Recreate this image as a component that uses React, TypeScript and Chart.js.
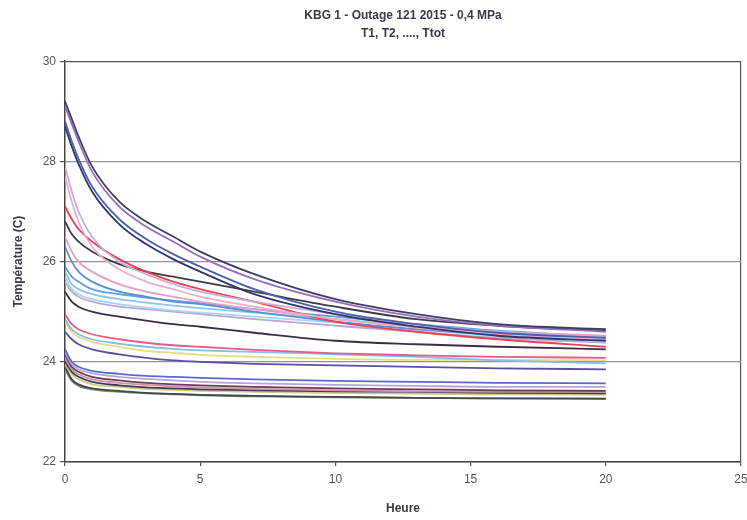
import { useEffect, useRef } from 'react';
import { Chart, registerables } from 'chart.js';
Chart.register(...registerables);

// Hours at which each temperature curve is sampled
const HOURS = [0, 0.25, 0.5, 1, 2, 3, 4, 5, 7, 10, 13, 16, 20];

// Temperature series (°C)
const T_A1 = [29.2, 28.85, 28.5, 27.9, 27.2, 26.8, 26.5, 26.2, 25.75, 25.25, 24.95, 24.75, 24.65];
const T_A2 = [29.1, 28.75, 28.4, 27.8, 27.1, 26.7, 26.4, 26.1, 25.65, 25.2, 24.9, 24.72, 24.6];
const T_A3 = [28.8, 28.4, 28.05, 27.5, 26.85, 26.45, 26.15, 25.9, 25.45, 25.0, 24.75, 24.58, 24.48];
const T_A4 = [28.7, 28.3, 27.95, 27.4, 26.75, 26.35, 26.05, 25.8, 25.35, 24.95, 24.7, 24.52, 24.42];
const T_B1 = [27.9, 27.4, 27.0, 26.5, 26.0, 25.75, 25.55, 25.4, 25.2, 24.95, 24.75, 24.6, 24.5];
const T_B2 = [27.7, 27.2, 26.8, 26.3, 25.85, 25.6, 25.45, 25.3, 25.1, 24.85, 24.68, 24.55, 24.45];
const T_C = [27.1, 26.85, 26.65, 26.4, 26.05, 25.8, 25.6, 25.45, 25.2, 24.8, 24.6, 24.45, 24.3];
const T_D = [26.8, 26.55, 26.4, 26.2, 25.95, 25.8, 25.7, 25.6, 25.4, 25.1, 24.85, 24.72, 24.62];
const T_E = [26.5, 26.2, 26.0, 25.8, 25.55, 25.4, 25.3, 25.2, 25.05, 24.85, 24.7, 24.6, 24.52];
const T_F = [26.3, 26.0, 25.8, 25.6, 25.4, 25.3, 25.2, 25.15, 25.0, 24.8, 24.65, 24.55, 24.5];
const T_G1 = [25.9, 25.7, 25.6, 25.45, 25.35, 25.28, 25.22, 25.17, 25.05, 24.9, 24.75, 24.62, 24.5];
const T_G2 = [25.8, 25.55, 25.45, 25.35, 25.25, 25.18, 25.12, 25.07, 24.98, 24.85, 24.7, 24.58, 24.45];
const T_G3 = [25.7, 25.45, 25.35, 25.25, 25.15, 25.08, 25.02, 24.98, 24.9, 24.78, 24.65, 24.52, 24.4];
const T_G4 = [25.6, 25.4, 25.3, 25.2, 25.1, 25.05, 25.0, 24.95, 24.85, 24.72, 24.6, 24.48, 24.38];
const T_H1 = [25.4, 25.2, 25.1, 25.0, 24.9, 24.82, 24.75, 24.7, 24.58, 24.42, 24.35, 24.3, 24.25];
const T_H2 = [24.95, 24.75, 24.65, 24.55, 24.45, 24.38, 24.33, 24.3, 24.24, 24.17, 24.13, 24.1, 24.08];
const T_H3 = [24.85, 24.65, 24.55, 24.45, 24.36, 24.3, 24.26, 24.23, 24.2, 24.15, 24.1, 24.03, 23.97];
const T_H4 = [24.8, 24.6, 24.5, 24.4, 24.3, 24.22, 24.18, 24.14, 24.1, 24.06, 24.04, 24.04, 24.03];
const T_H5 = [24.6, 24.45, 24.35, 24.25, 24.15, 24.08, 24.03, 24.0, 23.96, 23.93, 23.9, 23.87, 23.85];
const T_I1 = [24.25, 24.0, 23.9, 23.82, 23.76, 23.72, 23.7, 23.68, 23.65, 23.62, 23.6, 23.58, 23.57];
const T_I2 = [24.2, 23.95, 23.85, 23.77, 23.7, 23.66, 23.63, 23.6, 23.57, 23.54, 23.52, 23.5, 23.5];
const T_I3 = [24.15, 23.9, 23.8, 23.7, 23.63, 23.58, 23.55, 23.53, 23.5, 23.47, 23.45, 23.43, 23.42];
const T_I4 = [24.1, 23.85, 23.75, 23.65, 23.58, 23.54, 23.51, 23.49, 23.46, 23.43, 23.41, 23.4, 23.4];
const T_I5 = [24.0, 23.8, 23.7, 23.6, 23.53, 23.49, 23.47, 23.45, 23.43, 23.41, 23.4, 23.38, 23.37];
const T_I6 = [23.95, 23.75, 23.65, 23.55, 23.5, 23.46, 23.44, 23.42, 23.4, 23.38, 23.36, 23.35, 23.34];
const T_I7 = [23.9, 23.65, 23.55, 23.47, 23.42, 23.38, 23.36, 23.34, 23.32, 23.3, 23.28, 23.27, 23.26];
const T_I8 = [23.85, 23.62, 23.52, 23.45, 23.4, 23.37, 23.35, 23.33, 23.31, 23.29, 23.28, 23.27, 23.27];

const SERIES: [string, number[], string][] = [
  ['T1', T_A1, '#3b3f62'],
  ['T2', T_A2, '#9a6cc0'],
  ['T3', T_A3, '#4c62ac'],
  ['T4', T_A4, '#30366a'],
  ['T5', T_B1, '#c7aedb'],
  ['T6', T_B2, '#eab0cc'],
  ['T7', T_C, '#f0404f'],
  ['T8', T_D, '#3c3c48'],
  ['T9', T_E, '#e8a0c0'],
  ['T10', T_F, '#5a8fd8'],
  ['T11', T_G1, '#5f9fe0'],
  ['T12', T_G2, '#8cc4ec'],
  ['T13', T_G3, '#a9d4f0'],
  ['T14', T_G4, '#b9a6dc'],
  ['T15', T_H1, '#3a3040'],
  ['T16', T_H2, '#e35c8c'],
  ['T17', T_H3, '#86bfe8'],
  ['T18', T_H4, '#e6dc84'],
  ['T19', T_H5, '#5a4fa0'],
  ['T20', T_I1, '#5a6ad0'],
  ['T21', T_I2, '#b7a4d8'],
  ['T22', T_I3, '#6a3c58'],
  ['T23', T_I4, '#d88ab0'],
  ['T24', T_I5, '#3c3c50'],
  ['T25', T_I6, '#c8d080'],
  ['T26', T_I7, '#45474a'],
  ['Ttot', T_I8, '#7a9080'],
];

const X_TICKS = [0, 5, 10, 15, 20, 25];
const Y_TICKS = [22, 24, 26, 28, 30];

export default function App() {
  const ref = useRef<HTMLCanvasElement>(null);
  useEffect(() => {
    const datasets = SERIES.map(([label, vals, color]) => ({
      label,
      data: vals.map((v, i) => ({ x: HOURS[i], y: v })),
      borderColor: color,
      backgroundColor: color,
      borderWidth: 1.8,
      pointRadius: 0,
      cubicInterpolationMode: 'monotone' as const,
      fill: false,
    }));
    const font = { family: '"Liberation Sans", Arial, sans-serif', size: 12 };
    const chart = new Chart(ref.current!, {
      type: 'line',
      data: { datasets },
      options: {
        animation: false,
        responsive: true,
        maintainAspectRatio: false,
        layout: { padding: { left: 0, right: 0, top: 0, bottom: 0 } },
        plugins: {
          legend: { display: false },
          tooltip: { enabled: false },
          title: {
            display: true,
            fullSize: false,
            text: ['KBG 1 - Outage 121 2015 - 0,4 MPa', 'T1, T2, ...., Ttot'],
            color: '#3a3a4a',
            font: { ...font, size: 12, weight: 'bold', lineHeight: 1.55 },
            padding: { top: 6, bottom: 18 },
          },
        },
        scales: {
          x: {
            type: 'linear',
            min: 0,
            max: 25,
            afterBuildTicks: (s: any) => { s.ticks = X_TICKS.map((v) => ({ value: v })); },
            afterFit: (s: any) => { s.height = 58; s.paddingRight = 6; },
            ticks: { color: '#555', font, padding: 6 },
            grid: {
              color: (c: any) => (c.tick && c.tick.value === 25 ? '#555' : 'rgba(0,0,0,0)'),
              tickColor: '#555',
              tickLength: 4,
              lineWidth: 1.2,
            },
            border: { color: '#444', width: 1.5 },
            title: {
              display: true,
              text: 'Heure',
              color: '#3a3a4a',
              font: { ...font, weight: 'bold' },
              padding: { bottom: 4 },
            },
          },
          y: {
            type: 'linear',
            min: 22,
            max: 30,
            afterBuildTicks: (s: any) => { s.ticks = Y_TICKS.map((v) => ({ value: v })); },
            afterFit: (s: any) => { s.width = 65; },
            ticks: { color: '#555', font, padding: 4 },
            grid: {
              color: (c: any) => (c.tick && c.tick.value === 30 ? '#555' : '#9090a0'),
              tickColor: '#555',
              tickLength: 5,
              lineWidth: 1.2,
            },
            border: { color: '#444', width: 1.5 },
            title: {
              display: true,
              text: 'Température (C)',
              color: '#3a3a4a',
              font: { ...font, weight: 'bold' },
              padding: { top: 11 },
            },
          },
        },
      },
    });
    return () => chart.destroy();
  }, []);
  return (
    <div style={{ position: 'absolute', left: 0, top: 0, width: 747, height: 520, background: '#fff' }}>
      <canvas ref={ref} />
    </div>
  );
}
